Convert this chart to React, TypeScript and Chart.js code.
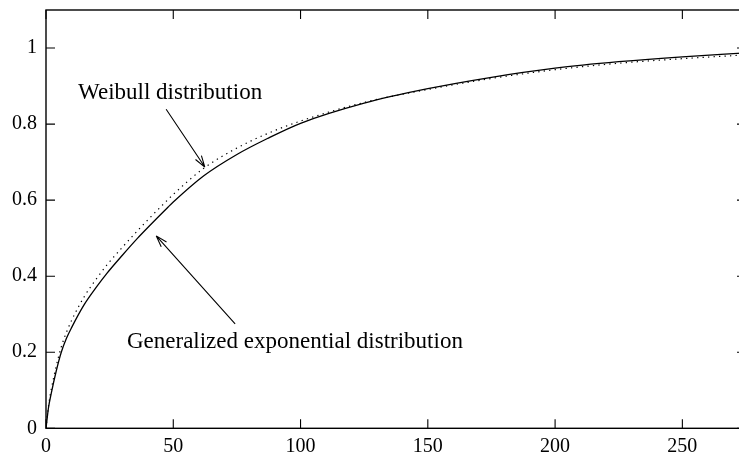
import React, { useEffect, useRef } from "react";
import { Chart, registerables } from "chart.js";

Chart.register(...registerables);

// x values of the sampled points
const xValues = [0, 1, 2, 4, 6, 8, 10, 15, 20, 24, 30, 36, 40, 48, 50, 62, 75, 87, 100, 125, 150, 175, 200, 225, 250, 275];
// Generalized exponential distribution (solid)
const genExpValues = [0, 0.055, 0.09, 0.15, 0.2, 0.236, 0.264, 0.325, 0.373, 0.408, 0.455, 0.5, 0.528, 0.582, 0.595, 0.664, 0.72, 0.762, 0.802, 0.855, 0.893, 0.923, 0.947, 0.964, 0.977, 0.987];
// Weibull distribution (dotted)
const weibullValues = [0, 0.06, 0.1, 0.163, 0.214, 0.252, 0.283, 0.346, 0.395, 0.43, 0.476, 0.52, 0.548, 0.602, 0.615, 0.684, 0.737, 0.775, 0.808, 0.857, 0.891, 0.92, 0.943, 0.96, 0.972, 0.982];

const xTicks = [0, 50, 100, 150, 200, 250];
const yTicks = [0, 0.2, 0.4, 0.6, 0.8, 1];
const xRange = [0, 275];
const yRange = [0, 1.1];

// annotations: text position (data units) and arrow from/to (data units)
const annotations = [
  { text: "Weibull distribution", tx: 12.6, ty: 0.882, ax1: 47.2, ay1: 0.839, ax2: 62.4, ay2: 0.687 },
  { text: "Generalized exponential distribution", tx: 31.8, ty: 0.228, ax1: 74.3, ay1: 0.2745, ax2: 43.3, ay2: 0.506 },
];

const FONT = '"Liberation Serif", "Times New Roman", serif';

const framePlugin = {
  id: "frame",
  afterDatasetsDraw(chart: any) {
    const { ctx, chartArea, scales } = chart;
    const { left, right, top, bottom } = chartArea;
    const xs = scales.x;
    const ys = scales.y;
    ctx.save();
    ctx.strokeStyle = "#000";
    ctx.lineWidth = 1.4;
    ctx.strokeRect(left, top, right - left, bottom - top);
    ctx.lineWidth = 1.1;
    const tl = 9;
    ctx.beginPath();
    xTicks.forEach((v) => {
      const px = xs.getPixelForValue(v);
      ctx.moveTo(px, bottom);
      ctx.lineTo(px, bottom - tl);
      ctx.moveTo(px, top);
      ctx.lineTo(px, top + tl);
    });
    yTicks.forEach((v) => {
      const py = ys.getPixelForValue(v);
      ctx.moveTo(left, py);
      ctx.lineTo(left + tl, py);
      ctx.moveTo(right, py);
      ctx.lineTo(right - tl, py);
    });
    ctx.stroke();

    // annotations
    ctx.fillStyle = "#000";
    ctx.font = "23px " + FONT;
    ctx.textBaseline = "middle";
    ctx.textAlign = "left";
    ctx.lineWidth = 1.1;
    annotations.forEach((a) => {
      ctx.fillText(a.text, xs.getPixelForValue(a.tx), ys.getPixelForValue(a.ty));
      const x1 = xs.getPixelForValue(a.ax1);
      const y1 = ys.getPixelForValue(a.ay1);
      const x2 = xs.getPixelForValue(a.ax2);
      const y2 = ys.getPixelForValue(a.ay2);
      ctx.beginPath();
      ctx.moveTo(x1, y1);
      ctx.lineTo(x2, y2);
      const ang = Math.atan2(y2 - y1, x2 - x1);
      const hl = 12;
      const spread = 0.3;
      ctx.moveTo(x2, y2);
      ctx.lineTo(x2 - hl * Math.cos(ang - spread), y2 - hl * Math.sin(ang - spread));
      ctx.moveTo(x2, y2);
      ctx.lineTo(x2 - hl * Math.cos(ang + spread), y2 - hl * Math.sin(ang + spread));
      ctx.stroke();
    });
    ctx.restore();
  },
};

export default function App() {
  const ref = useRef<HTMLCanvasElement | null>(null);
  useEffect(() => {
    if (!ref.current) return;
    const chart = new Chart(ref.current, {
      type: "line",
      data: {
        datasets: [
          {
            label: "Generalized exponential distribution",
            data: xValues.map((x, i) => ({ x, y: genExpValues[i] })),
            borderColor: "#000",
            borderWidth: 1.3,
            pointRadius: 0,
            cubicInterpolationMode: "monotone",
            fill: false,
          },
          {
            label: "Weibull distribution",
            data: xValues.map((x, i) => ({ x, y: weibullValues[i] })),
            borderColor: "#000",
            borderWidth: 1.2,
            borderDash: [1.3, 4.2],
            pointRadius: 0,
            cubicInterpolationMode: "monotone",
            fill: false,
          },
        ],
      },
      options: {
        responsive: false,
        animation: false,
        devicePixelRatio: 1,
        layout: { padding: { top: 10, right: 0, left: 0, bottom: 0 } },
        plugins: { legend: { display: false }, tooltip: { enabled: false } },
        scales: {
          x: {
            type: "linear",
            min: xRange[0],
            max: xRange[1],
            afterBuildTicks: (s: any) => {
              s.ticks = xTicks.map((v) => ({ value: v }));
            },
            afterFit: (s: any) => {
              s.height = 28.7;
              s.paddingLeft = 0;
              s.paddingRight = 0;
            },
            grid: { display: false, drawTicks: false },
            border: { display: false },
            ticks: {
              color: "#000",
              font: { family: FONT, size: 20 },
              padding: 6,
              maxRotation: 0,
              callback: (v: any) => String(v),
            },
          },
          y: {
            type: "linear",
            min: yRange[0],
            max: yRange[1],
            afterBuildTicks: (s: any) => {
              s.ticks = yTicks.map((v) => ({ value: v }));
            },
            afterFit: (s: any) => {
              s.width = 46;
              s.paddingTop = 0;
              s.paddingBottom = 0;
            },
            grid: { display: false, drawTicks: false },
            border: { display: false },
            ticks: {
              color: "#000",
              font: { family: FONT, size: 20 },
              padding: 9,
              callback: (v: any) => String(Math.round(Number(v) * 10) / 10),
            },
          },
        },
      },
      plugins: [framePlugin],
    });
    return () => chart.destroy();
  }, []);
  return (
    <div style={{ position: "fixed", left: 0, top: 0, width: 739, height: 457, overflow: "hidden", background: "#fff" }}>
      <canvas ref={ref} width={746} height={457} style={{ display: "block" }} />
    </div>
  );
}
